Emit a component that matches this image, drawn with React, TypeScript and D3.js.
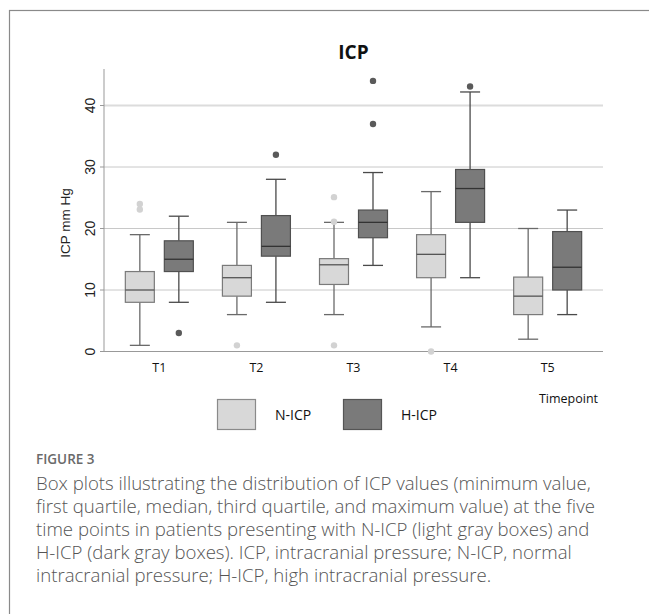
import React from "react";
import * as d3 from "d3";

const categories = ["T1", "T2", "T3", "T4", "T5"];
const groups = ["N-ICP", "H-ICP"];
// [whiskerLow, Q1, median, Q3, whiskerHigh]
const nIcpStats = [
  [1, 8, 10, 13, 19],
  [6, 9, 12, 14, 21],
  [6, 10.9, 14.1, 15.1, 21],
  [4, 12, 15.8, 19, 26],
  [2, 6, 9, 12.1, 20],
];
const hIcpStats = [
  [8, 13, 15, 18, 22],
  [8, 15.5, 17.1, 22.1, 28],
  [14, 18.5, 21, 23, 29.1],
  [12, 21, 26.5, 29.6, 42.2],
  [6, 10, 13.7, 19.5, 23],
];
const nIcpOutliers = [[24, 23.1], [1], [25.1, 21.1, 1], [0], []];
const hIcpOutliers = [[3], [32], [44, 37], [43.1], []];
const yTicks = [0, 10, 20, 30, 40];
const captionLines = [
  "Box plots illustrating the distribution of ICP values (minimum value,",
  "first quartile, median, third quartile, and maximum value) at the five",
  "time points in patients presenting with N-ICP (light gray boxes) and",
  "H-ICP (dark gray boxes). ICP, intracranial pressure; N-ICP, normal",
  "intracranial pressure; H-ICP, high intracranial pressure.",
];

const W = 649;
const H = 614;
const plotLeft = 104;
const plotRight = 603;
const plotTop = 69;

export default function App() {
  const x = d3.scalePoint<string>().domain(categories).range([plotLeft, plotRight]).padding(0.57);
  const y = d3.scaleLinear().domain([0, 40]).range([351.5, 105.5]);
  const boxW = 29;
  const off = 19.5;
  const capW = 20;

  const styles = [
    { fill: "#d8d8d8", stroke: "#7a7a7a", whisk: "#6a6a6a", med: "#555", out: "#d2d2d2" },
    { fill: "#7a7a7a", stroke: "#505050", whisk: "#4a4a4a", med: "#333", out: "#5a5a5a" },
  ];
  const allStats = [nIcpStats, hIcpStats];
  const allOut = [nIcpOutliers, hIcpOutliers];

  const chartFont = "'Open Sans', 'DejaVu Sans', sans-serif";
  const numFont = "'Liberation Sans', Arial, sans-serif";

  return (
    <svg width={W} height={H} style={{ position: "absolute", left: 0, top: 0, display: "block" }}>
      <rect x={0} y={0} width={W} height={H} fill="#fff" />
      <rect x={9.5} y={10.5} width={W + 20} height={H + 20} fill="none" stroke="#8a8a8a" strokeWidth={1.2} />
      {/* title */}
      <text x={(plotLeft + plotRight) / 2} y={59} textAnchor="middle" fontFamily={chartFont} fontWeight={700} fontSize={19} fill="#111">
        ICP
      </text>
      {/* grid */}
      {yTicks.filter((t) => t > 0).map((t) => (
        <line key={t} x1={plotLeft} x2={plotRight} y1={y(t)} y2={y(t)} stroke={t === 40 ? "#dcdcdc" : "#c8c8c8"} strokeWidth={t === 40 ? 1.8 : 1} />
      ))}
      {/* axes */}
      <line x1={plotLeft} x2={plotLeft} y1={plotTop} y2={y(0)} stroke="#999" />
      <line x1={plotLeft} x2={plotRight} y1={y(0)} y2={y(0)} stroke="#999" />
      {yTicks.map((t) => (
        <g key={t}>
          <line x1={plotLeft - 4} x2={plotLeft} y1={y(t)} y2={y(t)} stroke="#999" />
          <text transform={`translate(${94.5},${y(t)}) rotate(-90)`} textAnchor="middle" fontFamily={numFont} fontSize={14} fill="#222">
            {t}
          </text>
        </g>
      ))}
      <text transform={`translate(${70},${223}) rotate(-90)`} textAnchor="middle" fontFamily={numFont} fontSize={13.5} fill="#222">
        ICP mm Hg
      </text>
      {/* boxes */}
      {categories.map((c, ci) => (
        <g key={c}>
          {[0, 1].map((gi) => {
            const s = allStats[gi][ci];
            const st = styles[gi];
            const cx = (x(c) as number) + (gi === 0 ? -off : off);
            return (
              <g key={gi}>
                <line x1={cx} x2={cx} y1={y(s[0])} y2={y(s[1])} stroke={st.whisk} strokeWidth={1.3} />
                <line x1={cx} x2={cx} y1={y(s[3])} y2={y(s[4])} stroke={st.whisk} strokeWidth={1.3} />
                <line x1={cx - capW / 2} x2={cx + capW / 2} y1={y(s[0])} y2={y(s[0])} stroke={st.whisk} strokeWidth={1.3} />
                <line x1={cx - capW / 2} x2={cx + capW / 2} y1={y(s[4])} y2={y(s[4])} stroke={st.whisk} strokeWidth={1.3} />
                <rect x={cx - boxW / 2} y={y(s[3])} width={boxW} height={y(s[1]) - y(s[3])} fill={st.fill} stroke={st.stroke} strokeWidth={1.2} />
                <line x1={cx - boxW / 2} x2={cx + boxW / 2} y1={y(s[2])} y2={y(s[2])} stroke={st.med} strokeWidth={1.3} />
                {allOut[gi][ci].map((o, oi) => (
                  <circle key={oi} cx={cx} cy={y(o)} r={3.2} fill={st.out} />
                ))}
              </g>
            );
          })}
          <text x={x(c) as number} y={372} textAnchor="middle" fontFamily={chartFont} fontSize={12.5} fill="#111">
            {c}
          </text>
        </g>
      ))}
      {/* legend */}
      {groups.map((g, gi) => (
        <g key={g} transform={`translate(${217 + gi * 126},${399.5})`}>
          <rect x={0.5} y={0} width={38} height={30} fill={styles[gi].fill} stroke={gi === 0 ? "#8a8a8a" : "#555"} strokeWidth={1.2} />
          <text x={58} y={20} fontFamily={chartFont} fontSize={14} fill="#111">
            {g}
          </text>
        </g>
      ))}
      <text x={598} y={403} textAnchor="end" fontFamily={chartFont} fontSize={12.5} fill="#111">
        Timepoint
      </text>
      {/* caption */}
      <text x={36} y={464} fontFamily={chartFont} fontSize={13.5} fontWeight={600} fill="#6a6a6a">
        FIGURE 3
      </text>
      {captionLines.map((l, i) => (
        <text key={i} x={36} y={490 + i * 23} fontFamily={chartFont} fontSize={18.6} fontWeight={300} fill="#555">
          {l}
        </text>
      ))}
    </svg>
  );
}
